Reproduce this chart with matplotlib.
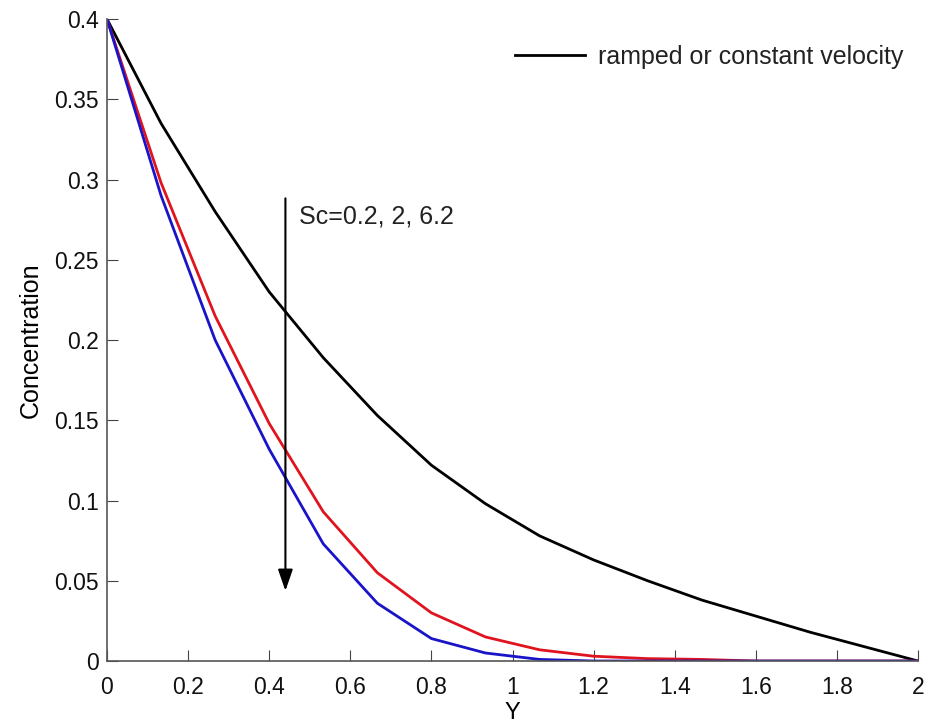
import matplotlib
matplotlib.use("Agg")
import matplotlib.pyplot as plt

y_pos = [0, 0.1333, 0.2667, 0.4, 0.5333, 0.6667, 0.8, 0.9333, 1.0667, 1.2, 1.3333, 1.4667, 1.6, 1.7333, 1.8667, 2.0]
conc_ramped = [0.4, 0.335, 0.28, 0.23, 0.189, 0.153, 0.122, 0.098, 0.078, 0.063, 0.05, 0.038, 0.028, 0.018, 0.009, 0.0]
conc_sc2 = [0.4, 0.298, 0.215, 0.148, 0.093, 0.055, 0.03, 0.015, 0.007, 0.003, 0.0015, 0.001, 0.0, 0.0, 0.0, 0.0]
conc_sc62 = [0.4, 0.29, 0.2, 0.132, 0.073, 0.036, 0.014, 0.005, 0.001, 0.0, 0.0, 0.0, 0.0, 0.0, 0.0, 0.0]

xticks = [0, 0.2, 0.4, 0.6, 0.8, 1, 1.2, 1.4, 1.6, 1.8, 2]
xticklabels = ["0", "0.2", "0.4", "0.6", "0.8", "1", "1.2", "1.4", "1.6", "1.8", "2"]
yticks = [0, 0.05, 0.1, 0.15, 0.2, 0.25, 0.3, 0.35, 0.4]
yticklabels = ["0", "0.05", "0.1", "0.15", "0.2", "0.25", "0.3", "0.35", "0.4"]

plt.rcParams['font.family'] = ['Liberation Sans', 'DejaVu Sans']

fig = plt.figure(figsize=(9.32, 7.26), dpi=100)
ax = fig.add_axes([0.1148, 0.0895, 0.8702, 0.8843])

ax.plot(y_pos, conc_ramped, color="black", lw=2, label="ramped or constant velocity")
ax.plot(y_pos, conc_sc2, color="#e0141e", lw=2)
ax.plot(y_pos, conc_sc62, color="#1a14c8", lw=2)

ax.annotate("", xy=(0.44, 0.042), xytext=(0.44, 0.29),
            arrowprops=dict(arrowstyle="-|>,head_length=1.3,head_width=0.45", color="black", lw=1.5))
ax.text(0.473, 0.277, "Sc=0.2, 2, 6.2", fontsize=18, va="center", ha="left", color="#222222")

ax.set_xlim(0, 2)
ax.set_ylim(0, 0.4)
ax.set_xticks(xticks)
ax.set_xticklabels(xticklabels)
ax.set_yticks(yticks)
ax.set_yticklabels(yticklabels)
ax.tick_params(direction="in", length=8, labelsize=16.5, colors="#444444", labelcolor="#111111")
ax.tick_params(axis="x", pad=11)
ax.tick_params(axis="y", pad=6)
ax.spines["top"].set_visible(False)
ax.spines["right"].set_visible(False)
for s in ("left", "bottom"):
    ax.spines[s].set_color("#555555")
    ax.spines[s].set_linewidth(1.2)

ax.set_xlabel("Y", fontsize=17, labelpad=2)
ax.set_ylabel("Concentration", fontsize=18, labelpad=8)

leg = ax.legend(loc="upper right", frameon=False, fontsize=18, handlelength=2.8, handletextpad=0.5,
                bbox_to_anchor=(1.0, 0.983), borderaxespad=0.2)
for t in leg.get_texts():
    t.set_color("#222222")

fig.savefig("out.png", dpi=100, facecolor="white")
